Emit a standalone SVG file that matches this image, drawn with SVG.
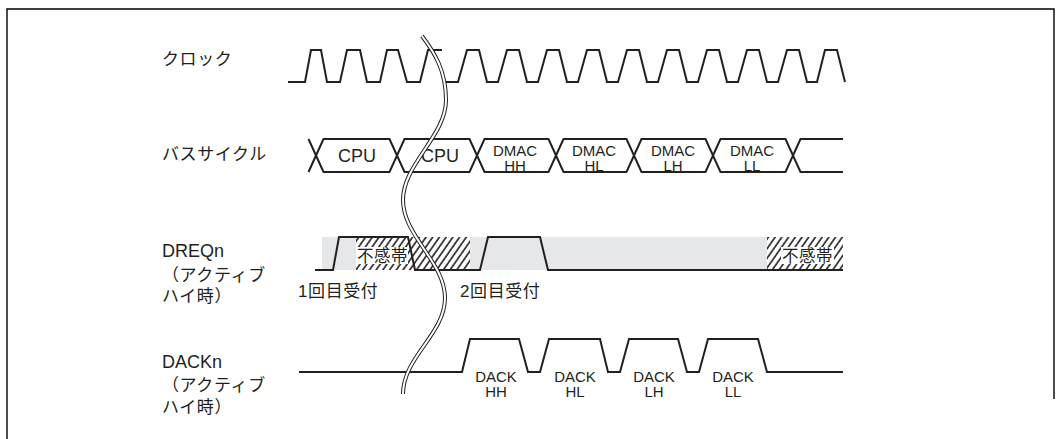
<svg xmlns="http://www.w3.org/2000/svg" width="1062" height="439" viewBox="0 0 1062 439">
<style>
.sig{fill:none;stroke:#231f20;stroke-width:2;stroke-linejoin:miter}
.lbl{font-family:"Liberation Sans","Noto Sans CJK JP",sans-serif;fill:#231f20}
.jp{font-size:17px;letter-spacing:0.6px}
.lat{font-size:18px}
.sm{font-size:15px;text-anchor:middle}
.frame{stroke:#000;stroke-width:1.4;fill:none}
</style>
<defs>
<pattern id="hatch" width="5.5" height="10" patternUnits="userSpaceOnUse" patternTransform="rotate(35)">
<rect width="5.5" height="10" fill="#fff"/>
<line x1="1" y1="0" x2="1" y2="10" stroke="#231f20" stroke-width="1.6"/>
</pattern>
</defs>
<rect width="1062" height="439" fill="#fff"/>
<path class="frame" d="M7,439 V9 H1054 V399"/>

<g id="labels">
<text class="lbl jp" x="162" y="65">クロック</text>
<text class="lbl jp" x="162" y="160">バスサイクル</text>
<text class="lbl lat" x="162" y="257">DREQn</text>
<text class="lbl jp" x="162" y="281">（アクティブ</text>
<text class="lbl jp" x="162" y="302">ハイ時）</text>
<text class="lbl lat" x="162" y="368">DACKn</text>
<text class="lbl jp" x="162" y="391">（アクティブ</text>
<text class="lbl jp" x="162" y="413">ハイ時）</text>
</g>

<g id="clock">
<path class="sig" d="M288,82 H305 L311,50 H321 L327,82 H340 L347,50 H360 L367,82 H380 L387,50 H398 L407,82 H420 L428,50 H442"/>
<path class="sig" d="M443,82 H458 L467,50 H479 L487,82 H498 L507,50 H519 L527,82 H538 L547,50 H559 L567,82 H578 L587,50 H599 L607,82 H618 L627,50 H639 L647,82 H658 L667,50 H679 L687,82 H698 L707,50 H719 L727,82 H738 L747,50 H759 L767,82 H778 L787,50 H799 L807,82 H817 L825,50 H837 L845,82"/>
</g>

<g id="buscycle">
<path class="sig" d="M308.5,172 L323.5,139 H389.5 L404.5,172 H469.5 L484.5,139 H548.5 L563.5,172 H626.5 L641.5,139 H705.5 L720.5,172 H785.5 L800.5,139 H843"/>
<path class="sig" d="M308.5,139 L323.5,172 H389.5 L404.5,139 H469.5 L484.5,172 H548.5 L563.5,139 H626.5 L641.5,172 H705.5 L720.5,139 H785.5 L800.5,172 H843"/>
<text class="lbl sm" x="357" y="162" style="font-size:18px">CPU</text>
<text class="lbl sm" x="440" y="162" style="font-size:18px">CPU</text>
<text class="lbl sm" x="515" y="156">DMAC</text>
<text class="lbl sm" x="515" y="171">HH</text>
<text class="lbl sm" x="594" y="156">DMAC</text>
<text class="lbl sm" x="594" y="171">HL</text>
<text class="lbl sm" x="673" y="156">DMAC</text>
<text class="lbl sm" x="673" y="171">LH</text>
<text class="lbl sm" x="752" y="156">DMAC</text>
<text class="lbl sm" x="752" y="171">LL</text>
</g>

<g id="dreq">
<rect x="322" y="237" width="445" height="33" fill="#e6e7e8"/>
<rect x="356" y="237" width="114" height="33" fill="url(#hatch)"/>
<rect x="767" y="237" width="76" height="33" fill="url(#hatch)"/>
<rect x="356" y="247" width="52" height="17" fill="#fff"/>
<rect x="781" y="247" width="53" height="17" fill="#fff"/>
<text class="lbl" x="357" y="262" style="font-size:16.5px;letter-spacing:0.5px">不感帯</text>
<text class="lbl" x="782" y="262" style="font-size:16.5px;letter-spacing:0.5px">不感帯</text>
<path class="sig" d="M315,270 H333 L339,237 H408 L415,270 H480 L488,237 H540 L548,270 H843"/>
<text class="lbl jp" x="298" y="297">1回目受付</text>
<text class="lbl jp" x="460" y="297">2回目受付</text>
</g>

<g id="dack">
<path class="sig" d="M299,372 H462 L470,339 H519 L528,372 H540 L549,339 H600 L608,372 H620 L629,339 H678 L687,372 H699 L708,339 H758 L767,372 H843"/>
<text class="lbl sm" x="496" y="382">DACK</text>
<text class="lbl sm" x="496" y="397">HH</text>
<text class="lbl sm" x="575" y="382">DACK</text>
<text class="lbl sm" x="575" y="397">HL</text>
<text class="lbl sm" x="654" y="382">DACK</text>
<text class="lbl sm" x="654" y="397">LH</text>
<text class="lbl sm" x="733" y="382">DACK</text>
<text class="lbl sm" x="733" y="397">LL</text>
</g>

<g id="break">
<path d="M422,36 C434,52 446,70 446,100 C446,136 403,164 403,200 C403,236 445,262 445,298 C445,334 403,357 403,394" fill="none" stroke="#231f20" stroke-width="4"/>
<path d="M422,36 C434,52 446,70 446,100 C446,136 403,164 403,200 C403,236 445,262 445,298 C445,334 403,357 403,394" fill="none" stroke="#fff" stroke-width="2"/>
</g>
</svg>
